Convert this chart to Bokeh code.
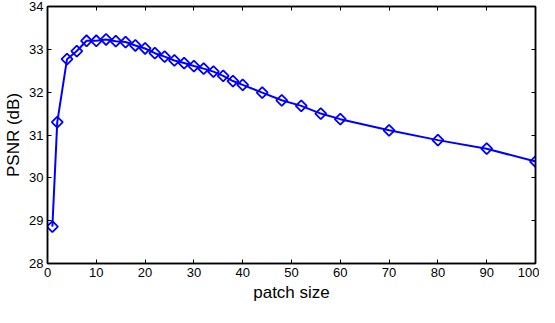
from bokeh.plotting import figure
from bokeh.models import LinearAxis, Range1d, FixedTicker, CustomJSTickFormatter
from bokeh.embed import file_html
from bokeh.resources import INLINE
import math

patch_size = [1, 2, 4, 6, 8, 10, 12, 14, 16, 18, 20, 22, 24, 26, 28, 30, 32, 34, 36, 38, 40,
              44, 48, 52, 56, 60, 70, 80, 90, 100]
psnr = [28.86, 31.30, 32.77, 32.96, 33.20, 33.20, 33.23, 33.19, 33.17, 33.09, 33.02, 32.91,
        32.83, 32.74, 32.68, 32.61, 32.55, 32.48, 32.38, 32.26, 32.17,
        31.99, 31.81, 31.68, 31.50, 31.37, 31.11, 30.88, 30.68, 30.38]
x_ticks = [0, 10, 20, 30, 40, 50, 60, 70, 80, 90, 100]
y_ticks = [28, 29, 30, 31, 32, 33, 34]

FONT = "Liberation Sans"

p = figure(width=539, height=307, output_backend="svg", toolbar_location=None,
           x_range=Range1d(0, 100), y_range=Range1d(28, 34),
           min_border_left=47, min_border_right=4, min_border_top=6, min_border_bottom=44)
p.background_fill_color = "white"
p.border_fill_color = "white"
p.outline_line_color = "black"
p.outline_line_width = 1.5
p.grid.visible = False

p.line(patch_size, psnr, line_color="#0000ff", line_width=2)
p.scatter(patch_size, psnr, marker="square", angle=math.pi / 4, size=7.8,
          line_color="#0000ff", line_width=1.8, fill_color=None)

def style(ax, labels=True):
    ax.axis_line_color = "black"
    ax.axis_line_width = 1.5
    ax.major_tick_in = 4
    ax.major_tick_out = 0
    ax.minor_tick_line_color = None
    ax.major_tick_line_color = "black"
    ax.major_label_text_font = FONT
    ax.major_label_text_font_size = "13px"
    ax.major_label_text_color = "black"
    ax.major_label_standoff = 4 if labels else 0
    if not labels:
        ax.formatter = CustomJSTickFormatter(code="return ''")

p.xaxis.ticker = FixedTicker(ticks=x_ticks)
p.yaxis.ticker = FixedTicker(ticks=y_ticks)
style(p.xaxis[0])
style(p.yaxis[0])
p.xaxis.axis_label = "patch size"
p.yaxis.axis_label = "PSNR (dB)"
for ax in (p.xaxis[0], p.yaxis[0]):
    ax.axis_label_text_font = FONT
    ax.axis_label_text_font_size = "17px"
    ax.axis_label_text_font_style = "normal"
    ax.axis_label_text_color = "black"
    ax.axis_label_standoff = 3

top = LinearAxis(ticker=FixedTicker(ticks=x_ticks))
style(top, labels=False)
p.add_layout(top, "above")
right = LinearAxis(ticker=FixedTicker(ticks=y_ticks))
style(right, labels=False)
p.add_layout(right, "right")

open("out.html", "w").write(file_html(p, INLINE))
